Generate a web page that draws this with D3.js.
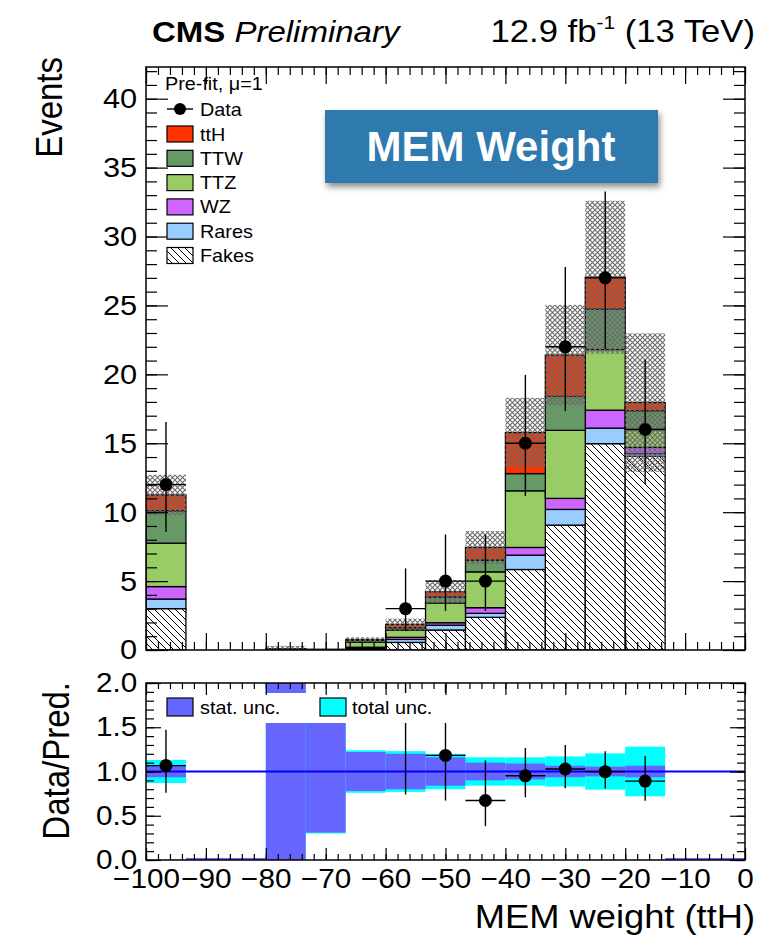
<!DOCTYPE html>
<html lang="en">
<head>
<meta charset="utf-8">
<title>MEM weight</title>
<script src="https://cdnjs.cloudflare.com/ajax/libs/d3/7.8.5/d3.min.js"></script>
<style>
body { margin: 0; background: #fff; }
text { font-family: "Liberation Sans", Arial, Helvetica, sans-serif; }
</style>
</head>
<body>
<script>
// binning of the MEM weight histogram
var nBins = 15, xMin = -100, xMax = 0;

// pre-fit yields per bin (stacked bottom -> top)
var fakes = [3.00, 0, 0, 0,    0,    0.05, 0.55, 1.45, 2.37, 5.84, 9.06, 14.97, 14.05, 0, 0];
var rares = [0.70, 0, 0, 0,    0,    0.07, 0.22, 0.35, 0.29, 1.04, 1.14, 1.13,  0.20, 0, 0];
var wz    = [0.90, 0, 0, 0,    0,    0.08, 0.15, 0.18, 0.41, 0.56, 0.80, 1.30,  0.45, 0, 0];
var ttz   = [3.15, 0, 0, 0.05, 0.03, 0.38, 0.53, 1.42, 2.60, 4.11, 4.94, 4.40,  1.30, 0, 0];
var ttw   = [2.35, 0, 0, 0.05, 0.02, 0.12, 0.15, 0.46, 0.85, 1.25, 2.46, 2.95,  1.35, 0, 0];
var tth   = [1.15, 0, 0, 0,    0,    0.05, 0.25, 0.37, 0.92, 2.97, 3.00, 2.30,  0.60, 0, 0];

// observed data with asymmetric errors
var data  = [12, 0, 0, 0, 0, 0, 3, 5, 5, 15, 22, 27, 16, 0, 0];
var errHi = [4.55, 0, 0, 0, 0, 0, 2.92, 3.38, 3.38, 4.96, 5.79, 6.26, 5.08, 0, 0];
var errLo = [3.44, 0, 0, 0, 0, 0, 1.63, 2.16, 2.16, 3.83, 4.66, 5.18, 3.96, 0, 0];

// relative uncertainties on the prediction
var statUnc = [0.065, 0, 0, 2, 0.69, 0.22, 0.20, 0.16, 0.10, 0.09, 0.065, 0.055, 0.065, 0, 0];
var totUnc  = [0.13,  0, 0, 2, 0.70, 0.24, 0.23, 0.20, 0.16, 0.16, 0.17, 0.205, 0.28, 0, 0];

var procKeys   = ["fakes", "rares", "wz", "ttz", "ttw", "tth"];
var procNames  = ["Fakes", "Rares", "WZ", "TTZ", "TTW", "ttH"];
var procColors = ["url(#fakeHatch)", "#99ccff", "#cc66ff", "#99cc66", "#669966", "#ff3300"];

var yTicksTop = [0, 5, 10, 15, 20, 25, 30, 35, 40];
var yTicksRatio = [0, 0.5, 1, 1.5, 2];
var xTicks = [-100, -90, -80, -70, -60, -50, -40, -30, -20, -10, 0];

var SX = 1.1; // the plot text is a bit wider than plain Helvetica

var edges = d3.range(nBins + 1).map(function(i) { return xMin + i * (xMax - xMin) / nBins; });
var rows = edges.slice(0, nBins).map(function(lo, i) {
    return { lo: lo, hi: edges[i + 1], fakes: fakes[i], rares: rares[i], wz: wz[i],
             ttz: ttz[i], ttw: ttw[i], tth: tth[i] };
});
var total = rows.map(function(r) { return procKeys.reduce(function(s, k) { return s + r[k]; }, 0); });

var L = 146, R = 745;
var x = d3.scaleLinear().domain([xMin, xMax]).range([L, R]);
var y = d3.scaleLinear().domain([0, 42.3]).range([650, 67]);
var yr = d3.scaleLinear().domain([0, 2]).range([860, 683]);

var svg = d3.select("body").append("svg").attr("width", 769).attr("height", 938);
var defs = svg.append("defs");

var fh = defs.append("pattern").attr("id", "fakeHatch").attr("patternUnits", "userSpaceOnUse")
    .attr("width", 7).attr("height", 7);
fh.append("rect").attr("width", 7).attr("height", 7).attr("fill", "#fff");
fh.append("path").attr("d", "M0,0L7,7M-1,6L1,8M6,-1L8,1").attr("stroke", "#000").attr("stroke-width", 1);

var ch = defs.append("pattern").attr("id", "crossHatch").attr("patternUnits", "userSpaceOnUse")
    .attr("width", 5).attr("height", 5);
ch.append("path").attr("d", "M0,0L5,5M5,0L0,5").attr("stroke", "#6a6a6a").attr("stroke-width", 1.1);

defs.append("clipPath").attr("id", "clipTop").append("rect")
    .attr("x", L).attr("y", 67).attr("width", R - L).attr("height", 650 - 67);
defs.append("clipPath").attr("id", "clipRatio").append("rect")
    .attr("x", L).attr("y", 683).attr("width", R - L).attr("height", 860 - 683);

var shadow = defs.append("filter").attr("id", "shadow").attr("x", "-10%").attr("y", "-10%")
    .attr("width", "130%").attr("height", "150%");
shadow.append("feDropShadow").attr("dx", 2).attr("dy", 4).attr("stdDeviation", 3)
    .attr("flood-color", "#000").attr("flood-opacity", 0.45);

function txt(g, px, py, str, size, anchor, rot) {
    var tr = "translate(" + px + "," + py + ")" + (rot ? " rotate(-90) scale(1," + SX + ")" : " scale(" + SX + ",1)");
    return g.append("text").attr("transform", tr).attr("font-size", size)
        .attr("text-anchor", anchor || "start").attr("fill", "#000").text(str);
}

function tickAxis(g, axisFn, scale, values, size) {
    g.call(axisFn(scale).tickValues(values).tickSize(size).tickFormat(""));
    g.select(".domain").remove();
    g.selectAll("line").attr("stroke", "#000").attr("stroke-width", 1.2);
}

// ---------- top panel ----------
var upper = svg.append("g");
var plot = upper.append("g").attr("clip-path", "url(#clipTop)");

var stacked = d3.stack().keys(procKeys)(rows);
stacked.forEach(function(layer, k) {
    plot.append("g").selectAll("rect")
        .data(layer.filter(function(d) { return d[1] - d[0] > 0; }))
        .enter().append("rect")
        .attr("x", function(d) { return x(d.data.lo); })
        .attr("width", function(d) { return x(d.data.hi) - x(d.data.lo); })
        .attr("y", function(d) { return y(d[1]); })
        .attr("height", function(d) { return y(d[0]) - y(d[1]); })
        .attr("fill", procColors[k])
        .attr("stroke", "#000").attr("stroke-width", 1.3);
});

// total uncertainty band
plot.append("g").selectAll("rect")
    .data(rows.filter(function(r, i) { return total[i] > 0; }))
    .enter().append("rect")
    .attr("x", function(d) { return x(d.lo); })
    .attr("width", function(d) { return x(d.hi) - x(d.lo); })
    .attr("y", function(d) { var i = rows.indexOf(d); return y(total[i] * (1 + totUnc[i])); })
    .attr("height", function(d) {
        var i = rows.indexOf(d);
        return y(Math.max(0, total[i] * (1 - totUnc[i]))) - y(total[i] * (1 + totUnc[i]));
    })
    .attr("fill", "url(#crossHatch)");

// data points
var pts = rows.map(function(r, i) { return { r: r, i: i }; }).filter(function(p) { return data[p.i] > 0; });
var dp = plot.append("g").selectAll("g").data(pts).enter().append("g");
dp.append("line")
    .attr("x1", function(p) { return x(p.r.lo); }).attr("x2", function(p) { return x(p.r.hi); })
    .attr("y1", function(p) { return y(data[p.i]); }).attr("y2", function(p) { return y(data[p.i]); })
    .attr("stroke", "#000").attr("stroke-width", 1.4);
dp.append("line")
    .attr("x1", function(p) { return x((p.r.lo + p.r.hi) / 2); }).attr("x2", function(p) { return x((p.r.lo + p.r.hi) / 2); })
    .attr("y1", function(p) { return y(data[p.i] + errHi[p.i]); })
    .attr("y2", function(p) { return y(data[p.i] - errLo[p.i]); })
    .attr("stroke", "#000").attr("stroke-width", 1.4);
dp.append("circle")
    .attr("cx", function(p) { return x((p.r.lo + p.r.hi) / 2); })
    .attr("cy", function(p) { return y(data[p.i]); })
    .attr("r", 6.5).attr("fill", "#000");

// frame and ticks
upper.append("rect").attr("x", L).attr("y", 67).attr("width", R - L).attr("height", 650 - 67)
    .attr("fill", "none").attr("stroke", "#000").attr("stroke-width", 1.5);
tickAxis(upper.append("g").attr("transform", "translate(" + L + ",0)"), d3.axisLeft, y, yTicksTop, -22);
tickAxis(upper.append("g").attr("transform", "translate(" + L + ",0)"), d3.axisLeft, y, d3.range(0, 43, 1), -11);
tickAxis(upper.append("g").attr("transform", "translate(" + R + ",0)"), d3.axisRight, y, yTicksTop, -22);
tickAxis(upper.append("g").attr("transform", "translate(" + R + ",0)"), d3.axisRight, y, d3.range(0, 43, 1), -11);
tickAxis(upper.append("g").attr("transform", "translate(0,650)"), d3.axisBottom, x, xTicks, -17);
tickAxis(upper.append("g").attr("transform", "translate(0,650)"), d3.axisBottom, x, d3.range(-100, 1, 2), -8);
tickAxis(upper.append("g").attr("transform", "translate(0,67)"), d3.axisTop, x, xTicks, -17);
tickAxis(upper.append("g").attr("transform", "translate(0,67)"), d3.axisTop, x, d3.range(-100, 1, 2), -8);

var yLab = upper.append("g").attr("transform", "translate(" + L + ",0)")
    .call(d3.axisLeft(y).tickValues(yTicksTop).tickSize(0).tickPadding(8).tickFormat(d3.format("d")));
yLab.select(".domain").remove();
yLab.selectAll("text").attr("font-size", 28).attr("font-family", null).attr("fill", "#000")
    .attr("transform", "scale(" + SX + ",1)");

txt(svg, 62, 57, "Events", 33, "end", true);

// legend (top)
var leg = upper.append("g");
txt(leg, 165, 90, "Pre-fit, \u03bc=1", 18);
leg.append("line").attr("x1", 167).attr("x2", 193).attr("y1", 109).attr("y2", 109)
    .attr("stroke", "#000").attr("stroke-width", 1.4);
leg.append("circle").attr("cx", 180).attr("cy", 109).attr("r", 6).attr("fill", "#000");
txt(leg, 200, 115.5, "Data", 18);
var legOrder = [5, 4, 3, 2, 1, 0];
legOrder.forEach(function(k, j) {
    var cy = 134 + j * 24.3;
    leg.append("rect").attr("x", 167).attr("y", cy - 8).attr("width", 26).attr("height", 16)
        .attr("fill", procColors[k]).attr("stroke", "#000").attr("stroke-width", 1.2);
    txt(leg, 200, cy + 6.5, procNames[k], 18);
});

// MEM Weight banner
var banner = svg.append("g");
banner.append("rect").attr("x", 325).attr("y", 110).attr("width", 333).attr("height", 73)
    .attr("fill", "#2e79ad").attr("filter", "url(#shadow)");
banner.append("text").attr("x", 491).attr("y", 161).attr("text-anchor", "middle")
    .attr("font-size", 42).attr("font-weight", "bold").attr("fill", "#fff").text("MEM Weight");

// header
var head = txt(svg, 152, 42, "", 30);
head.append("tspan").attr("font-weight", "bold").text("CMS");
head.append("tspan").attr("font-style", "italic").text(" Preliminary");
var lumi = txt(svg, 755, 42, "", 31.5, "end");
lumi.append("tspan").text("12.9 fb");
lumi.append("tspan").attr("font-size", 19).attr("dy", -13).text("-1");
lumi.append("tspan").attr("dy", 13).text(" (13 TeV)");

// ---------- ratio panel ----------
var rat = svg.append("g");
var rplot = rat.append("g").attr("clip-path", "url(#clipRatio)");
var rbins = rows.map(function(r, i) { return { r: r, i: i }; });

rplot.append("g").selectAll("rect").data(rbins.filter(function(p) { return total[p.i] > 0; }))
    .enter().append("rect")
    .attr("x", function(p) { return x(p.r.lo); })
    .attr("width", function(p) { return x(p.r.hi) - x(p.r.lo); })
    .attr("y", function(p) { return yr(1 + totUnc[p.i]); })
    .attr("height", function(p) { return yr(1 - totUnc[p.i]) - yr(1 + totUnc[p.i]); })
    .attr("fill", "#00ffff");
rplot.append("g").selectAll("rect").data(rbins.filter(function(p) { return total[p.i] > 0; }))
    .enter().append("rect")
    .attr("x", function(p) { return x(p.r.lo); })
    .attr("width", function(p) { return x(p.r.hi) - x(p.r.lo); })
    .attr("y", function(p) { return yr(1 + statUnc[p.i]); })
    .attr("height", function(p) { return yr(1 - statUnc[p.i]) - yr(1 + statUnc[p.i]); })
    .attr("fill", "#6666ff");
// empty bins show a flat band at zero
rplot.append("g").selectAll("line").data(rbins.filter(function(p) { return total[p.i] === 0; }))
    .enter().append("line")
    .attr("x1", function(p) { return x(p.r.lo); }).attr("x2", function(p) { return x(p.r.hi); })
    .attr("y1", yr(0) - 1).attr("y2", yr(0) - 1)
    .attr("stroke", "#6666ff").attr("stroke-width", 2);

rplot.append("line").attr("x1", L).attr("x2", R).attr("y1", yr(1)).attr("y2", yr(1))
    .attr("stroke", "#0000ff").attr("stroke-width", 2);

var rp = rplot.append("g").selectAll("g")
    .data(rbins.filter(function(p) { return data[p.i] > 0 && total[p.i] > 0; }))
    .enter().append("g");
rp.append("line")
    .attr("x1", function(p) { return x(p.r.lo); }).attr("x2", function(p) { return x(p.r.hi); })
    .attr("y1", function(p) { return yr(data[p.i] / total[p.i]); })
    .attr("y2", function(p) { return yr(data[p.i] / total[p.i]); })
    .attr("stroke", "#000").attr("stroke-width", 1.4);
rp.append("line")
    .attr("x1", function(p) { return x((p.r.lo + p.r.hi) / 2); }).attr("x2", function(p) { return x((p.r.lo + p.r.hi) / 2); })
    .attr("y1", function(p) { return yr((data[p.i] + errHi[p.i]) / total[p.i]); })
    .attr("y2", function(p) { return yr((data[p.i] - errLo[p.i]) / total[p.i]); })
    .attr("stroke", "#000").attr("stroke-width", 1.4);
rp.append("circle")
    .attr("cx", function(p) { return x((p.r.lo + p.r.hi) / 2); })
    .attr("cy", function(p) { return yr(data[p.i] / total[p.i]); })
    .attr("r", 6.5).attr("fill", "#000");

// ratio legend (white box drawn over the band)
var rleg = rat.append("g");
rleg.append("rect").attr("x", 152).attr("y", 693).attr("width", 314).attr("height", 30).attr("fill", "#fff");
rleg.append("rect").attr("x", 167).attr("y", 698).attr("width", 26).attr("height", 18)
    .attr("fill", "#6666ff").attr("stroke", "#000").attr("stroke-width", 1.2);
txt(rleg, 200, 714, "stat. unc.", 18);
rleg.append("rect").attr("x", 320).attr("y", 698).attr("width", 26).attr("height", 18)
    .attr("fill", "#00ffff").attr("stroke", "#000").attr("stroke-width", 1.2);
txt(rleg, 352, 714, "total unc.", 18);

rat.append("rect").attr("x", L).attr("y", 683).attr("width", R - L).attr("height", 860 - 683)
    .attr("fill", "none").attr("stroke", "#000").attr("stroke-width", 1.5);
tickAxis(rat.append("g").attr("transform", "translate(" + L + ",0)"), d3.axisLeft, yr, yTicksRatio, -15);
tickAxis(rat.append("g").attr("transform", "translate(" + L + ",0)"), d3.axisLeft, yr, d3.range(0, 2.01, 0.1), -8);
tickAxis(rat.append("g").attr("transform", "translate(" + R + ",0)"), d3.axisRight, yr, yTicksRatio, -15);
tickAxis(rat.append("g").attr("transform", "translate(" + R + ",0)"), d3.axisRight, yr, d3.range(0, 2.01, 0.1), -8);
tickAxis(rat.append("g").attr("transform", "translate(0,860)"), d3.axisBottom, x, xTicks, -12);
tickAxis(rat.append("g").attr("transform", "translate(0,860)"), d3.axisBottom, x, d3.range(-100, 1, 2), -6);
tickAxis(rat.append("g").attr("transform", "translate(0,683)"), d3.axisTop, x, xTicks, -12);
tickAxis(rat.append("g").attr("transform", "translate(0,683)"), d3.axisTop, x, d3.range(-100, 1, 2), -6);

var ryLab = rat.append("g").attr("transform", "translate(" + L + ",0)")
    .call(d3.axisLeft(yr).tickValues(yTicksRatio).tickSize(0).tickPadding(8).tickFormat(d3.format(".1f")));
ryLab.select(".domain").remove();
ryLab.selectAll("text").attr("font-size", 27).attr("font-family", null).attr("fill", "#000")
    .attr("transform", "scale(" + SX + ",1)");

var xLab = rat.append("g").attr("transform", "translate(0,860)")
    .call(d3.axisBottom(x).tickValues(xTicks).tickSize(0).tickPadding(9).tickFormat(d3.format("d")));
xLab.select(".domain").remove();
xLab.selectAll("text").attr("font-size", 27).attr("font-family", null).attr("fill", "#000")
    .attr("transform", "scale(" + SX + ",1)");

txt(svg, 69, 682, "Data/Pred.", 33, "end", true);
txt(svg, 755, 928, "MEM weight (ttH)", 33, "end");
</script>
</body>
</html>
